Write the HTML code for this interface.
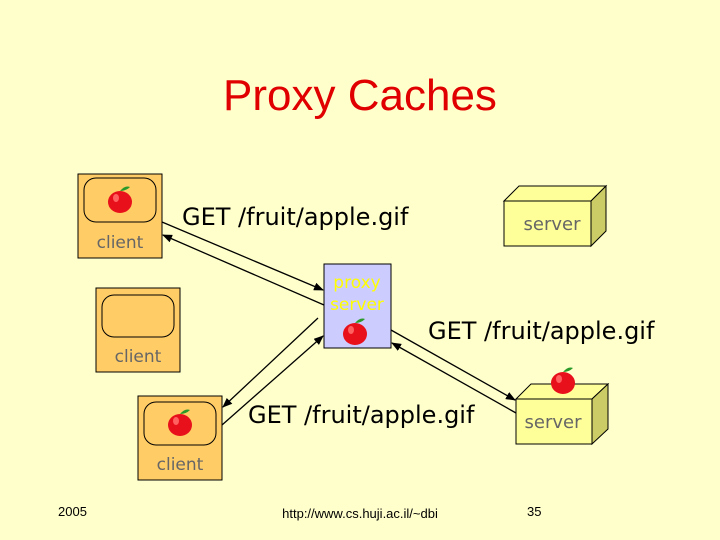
<!DOCTYPE html>
<html><head><style>
body{margin:0;width:720px;height:540px;background:#FFFFCC;overflow:hidden}
svg{display:block}
.c{font-family:"DejaVu Sans",sans-serif;}
</style></head><body>
<svg width="720" height="540" xmlns="http://www.w3.org/2000/svg">
<defs>
<marker id="a" markerWidth="10" markerHeight="8" refX="9" refY="4" orient="auto" markerUnits="userSpaceOnUse"><path d="M0,0 L10,4 L0,8 z" fill="#000"/></marker>
<g id="apple"><ellipse cx="0" cy="2" rx="12" ry="11" fill="#E8101A"/><ellipse cx="-4" cy="-2" rx="3" ry="4" fill="#FF6060"/><path d="M0,-9 q5,-6 10,-4 q-4,4 -10,4z" fill="#2a9a2a"/></g>
</defs>
<text x="360" y="110" text-anchor="middle" font-family="Liberation Sans" font-size="44" fill="#E00000">Proxy Caches</text>
<rect x="78" y="174" width="84" height="84" fill="#FFCC66" stroke="#000"/>
<rect x="84" y="178" width="72" height="44" rx="12" fill="none" stroke="#000"/>
<use href="#apple" x="120" y="200"/>
<text x="120" y="248" text-anchor="middle" class="c" font-size="17" fill="#666">client</text>
<rect x="96" y="288" width="84" height="84" fill="#FFCC66" stroke="#000"/>
<rect x="102" y="295" width="72" height="42" rx="12" fill="none" stroke="#000"/>
<text x="138" y="362" text-anchor="middle" class="c" font-size="17" fill="#666">client</text>
<rect x="138" y="396" width="84" height="84" fill="#FFCC66" stroke="#000"/>
<rect x="144" y="402" width="72" height="43" rx="12" fill="none" stroke="#000"/>
<use href="#apple" x="180" y="423"/>
<text x="180" y="470" text-anchor="middle" class="c" font-size="17" fill="#666">client</text>
<rect x="324" y="264" width="67" height="84" fill="#CCCCFF" stroke="#000"/>
<text x="357" y="288" text-anchor="middle" class="c" font-size="17" fill="#FFFF00">proxy</text>
<text x="357" y="310" text-anchor="middle" class="c" font-size="17" fill="#FFFF00">server</text>
<use href="#apple" x="355" y="332"/>
<polygon points="504,201 519,186 606,186 591,201" fill="#FFFF99" stroke="#000"/>
<polygon points="591,201 606,186 606,231 591,246" fill="#CCCC66" stroke="#000"/>
<rect x="504" y="201" width="87" height="45" fill="#FFFF99" stroke="#000"/>
<text x="552" y="230" text-anchor="middle" class="c" font-size="18" fill="#666">server</text>
<polygon points="516,399 531,384 608,384 592,399" fill="#FFFF99" stroke="#000"/>
<polygon points="592,399 608,384 608,429 592,444" fill="#CCCC66" stroke="#000"/>
<rect x="516" y="399" width="76" height="45" fill="#FFFF99" stroke="#000"/>
<text x="553" y="428" text-anchor="middle" class="c" font-size="18" fill="#666">server</text>
<use href="#apple" x="563" y="381"/>
<g stroke="#000" stroke-width="1.3">
<line x1="162" y1="222" x2="323" y2="290" marker-end="url(#a)"/>
<line x1="324" y1="305" x2="163" y2="235" marker-end="url(#a)"/>
<line x1="318" y1="318" x2="223" y2="407" marker-end="url(#a)"/>
<line x1="222" y1="425" x2="323" y2="336" marker-end="url(#a)"/>
<line x1="391" y1="330" x2="515" y2="400" marker-end="url(#a)"/>
<line x1="516" y1="413" x2="392" y2="343" marker-end="url(#a)"/>
</g>
<text x="182" y="225" class="c" font-size="24" fill="#000">GET /fruit/apple.gif</text>
<text x="428" y="339" class="c" font-size="24" fill="#000">GET /fruit/apple.gif</text>
<text x="248" y="423" class="c" font-size="24" fill="#000">GET /fruit/apple.gif</text>
<text x="58" y="516" font-family="Liberation Sans" font-size="13">2005</text>
<text x="360" y="518" text-anchor="middle" font-family="Liberation Sans" font-size="13">http://www.cs.huji.ac.il/~dbi</text>
<text x="527" y="516" font-family="Liberation Sans" font-size="13">35</text>
</svg>
</body></html>
